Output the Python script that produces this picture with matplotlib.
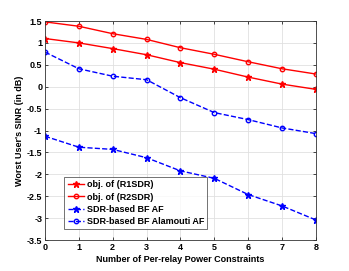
import matplotlib
matplotlib.use('Agg')
import matplotlib.pyplot as plt

# data
x = [0, 1, 2, 3, 4, 5, 6, 7, 8]
r1sdr = [1.10, 1.00, 0.87, 0.73, 0.55, 0.40, 0.22, 0.06, -0.06]
r2sdr = [1.48, 1.38, 1.21, 1.08, 0.89, 0.74, 0.57, 0.41, 0.29]
bf_af = [-1.13, -1.38, -1.43, -1.62, -1.92, -2.09, -2.46, -2.72, -3.04]
bf_alamouti = [0.79, 0.41, 0.24, 0.16, -0.25, -0.59, -0.75, -0.94, -1.07]

plt.rcParams['font.family'] = ['Liberation Sans', 'DejaVu Sans']
plt.rcParams['font.weight'] = 'bold'

fig = plt.figure(figsize=(3.49, 2.71), dpi=100)
ax = fig.add_axes([0.129, 0.114, 0.776, 0.8085])

ax.plot(x, r1sdr, '-', color='red', marker='*', markersize=4.5, linewidth=1.0, label='obj. of (R1SDR)')
ax.plot(x, r2sdr, '-', color='red', marker='o', markersize=3.2, markerfacecolor='none',
        markeredgewidth=1.0, linewidth=1.0, label='obj. of (R2SDR)')
ax.plot(x, bf_af, '--', color='blue', marker='*', markersize=4.5, linewidth=1.0, label='SDR-based BF AF')
ax.plot(x, bf_alamouti, '--', color='blue', marker='o', markersize=3.2, markerfacecolor='none',
        markeredgewidth=1.0, linewidth=1.0, label='SDR-based BF Alamouti AF')

ax.set_xlim(0, 8)
ax.set_ylim(-3.5, 1.5)
ax.set_xticks(range(0, 9))
ax.set_yticks([-3.5, -3, -2.5, -2, -1.5, -1, -0.5, 0, 0.5, 1, 1.5])
ax.set_yticklabels(['-3.5', '-3', '-2.5', '-2', '-1.5', '-1', '-0.5', '0', '0.5', '1', '1.5'])
ax.tick_params(direction='in', labelsize=6.5, length=2, width=0.5, top=True, right=True, pad=2)
ax.grid(True, color='#e0e0e0', linewidth=0.6)
for s in ax.spines.values():
    s.set_linewidth(0.6)
    s.set_color('#333333')

ax.set_xlabel('Number of Per-relay Power Constraints', fontsize=6.5, fontweight='bold', labelpad=2)
ax.set_ylabel("Worst User's SINR (in dB)", fontsize=6.5, fontweight='bold', labelpad=2)

leg = ax.legend(loc='lower left', bbox_to_anchor=(0.055, 0.03), fontsize=6.5, frameon=True,
                fancybox=False, edgecolor='#333333', handlelength=1.8, borderpad=0.35,
                labelspacing=0.35, handletextpad=0.3)
leg.get_frame().set_linewidth(0.6)

fig.savefig('out.png', dpi=100)
